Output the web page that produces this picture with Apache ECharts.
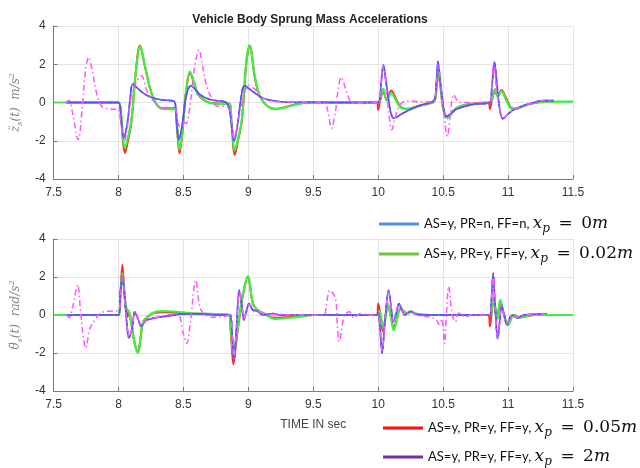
<!DOCTYPE html>
<html><head><meta charset="utf-8">
<script src="https://cdn.jsdelivr.net/npm/echarts@6/dist/echarts.min.js"></script>
<style>html,body{margin:0;padding:0;background:#fff}#c{width:640px;height:468px}</style>
</head><body><div id="c"></div><script>
// ---- data (time in s, acceleration) ----
const legendNames = ['AS=y, PR=n, FF=n, x_p = 0m', 'AS=y, PR=y, FF=y, x_p = 0.02m', 'AS=y, PR=y, FF=y, x_p = 0.05m', 'AS=y, PR=y, FF=y, x_p = 2m'];
const xRange = [7.5, 11.5];
const yRange = [-4, 4];
const topGreen = [[7.5,0],[8.0,0],[8.02,-0.6],[8.035,-1.9],[8.05,-2.38],[8.07,-1.9],[8.1,-0.9],[8.135,1.7],[8.167,2.96],[8.2,2.05],[8.24,0.83],[8.275,0.14],[8.31,-0.24],[8.35,-0.35],[8.435,-0.35],[8.45,-1.2],[8.47,-2.47],[8.49,-1.6],[8.52,0.6],[8.55,1.62],[8.58,1.1],[8.61,0.49],[8.66,0.14],[8.71,-0.03],[8.78,-0.07],[8.855,-0.07],[8.87,-1.0],[8.896,-2.5],[8.92,-1.9],[8.95,-0.9],[8.985,2.2],[9.01,2.96],[9.05,1.36],[9.085,0.4],[9.135,-0.12],[9.2,-0.35],[9.26,-0.3],[9.36,-0.12],[9.46,0],[10.0,0],[10.02,0.3],[10.04,0.71],[10.065,0.1],[10.1,0.49],[10.13,0.2],[10.17,-0.24],[10.22,-0.35],[10.32,-0.17],[10.42,0.0],[10.44,0.2],[10.46,1.6],[10.48,0.8],[10.5,-0.3],[10.53,-0.82],[10.6,-0.3],[10.65,-0.17],[10.75,-0.07],[10.86,0],[10.875,0.2],[10.9,0.7],[10.92,0.3],[10.95,0.6],[10.98,0.2],[11.02,-0.3],[11.05,-0.35],[11.15,-0.1],[11.3,0.05],[11.5,0.05]];
const topRed = [[7.6,0],[8.0,0],[8.02,-0.7],[8.035,-2.1],[8.05,-2.64],[8.07,-2.1],[8.1,-1.0],[8.13,1.4],[8.165,2.98],[8.2,2.0],[8.24,0.8],[8.275,0.12],[8.31,-0.22],[8.35,-0.3],[8.435,-0.3],[8.45,-1.3],[8.47,-2.65],[8.49,-1.7],[8.52,0.5],[8.55,1.55],[8.58,1.05],[8.61,0.45],[8.66,0.12],[8.71,-0.03],[8.78,-0.05],[8.855,-0.05],[8.87,-1.1],[8.896,-2.75],[8.92,-2.0],[8.95,-0.95],[8.985,2.1],[9.01,2.98],[9.05,1.3],[9.085,0.38],[9.135,-0.12],[9.2,-0.33],[9.26,-0.28],[9.36,-0.1],[9.46,0],[9.99,0],[10.0,-0.38],[10.015,0.1],[10.04,0.55],[10.065,0.15],[10.1,0.63],[10.13,0.3],[10.17,-0.2],[10.22,-0.33],[10.32,-0.15],[10.42,0],[10.44,0.2],[10.46,1.55],[10.48,0.8],[10.5,-0.3],[10.53,-0.78],[10.6,-0.3],[10.65,-0.15],[10.75,-0.05],[10.85,0],[10.86,-0.35],[10.875,0.1],[10.9,0.6],[10.92,0.35],[10.95,0.65],[10.98,0.3],[11.02,-0.25],[11.05,-0.33],[11.15,-0.1],[11.3,0.05],[11.35,0.05]];
const topBlue = [[7.6,0],[8.0,0],[8.02,-0.9],[8.04,-1.86],[8.06,-1.4],[8.075,-0.73],[8.09,0.2],[8.11,0.96],[8.16,0.66],[8.2,0.45],[8.25,0.28],[8.33,0.14],[8.43,0.05],[8.445,-0.8],[8.465,-1.95],[8.49,-1.2],[8.52,0.3],[8.557,0.87],[8.63,0.4],[8.71,0.14],[8.83,0],[8.86,-0.6],[8.89,-2.03],[8.92,-1.0],[8.945,0.3],[8.97,0.87],[9.035,0.57],[9.11,0.23],[9.19,0.1],[9.29,0.02],[9.99,0],[10.01,0.1],[10.025,1.2],[10.04,1.97],[10.06,1.1],[10.08,0.1],[10.1,-0.6],[10.117,-0.82],[10.19,-0.56],[10.27,-0.3],[10.34,-0.12],[10.42,0.05],[10.44,0.3],[10.46,2.14],[10.48,1.0],[10.495,0.14],[10.525,-0.73],[10.595,-0.38],[10.67,-0.2],[10.75,-0.08],[10.86,0],[10.875,0.8],[10.895,2.1],[10.915,0.9],[10.935,-0.3],[10.96,-0.85],[11.0,-0.6],[11.05,-0.35],[11.15,-0.1],[11.27,0.1],[11.35,0.1]];
const topMagenta = [[7.595,0],[7.62,0.12],[7.645,-0.5],[7.69,-1.95],[7.72,-0.3],[7.745,1.6],[7.77,2.37],[7.8,1.6],[7.82,0.83],[7.86,-0.1],[7.9,-0.3],[7.99,-0.35],[8.0,-0.35],[8.02,-1.2],[8.045,-2.0],[8.07,-1.2],[8.1,0.4],[8.14,1.1],[8.175,1.4],[8.225,0.5],[8.275,0.05],[8.33,-0.3],[8.43,-0.3],[8.455,-1.0],[8.475,-1.3],[8.5,-1.0],[8.52,-1.1],[8.55,-0.2],[8.585,1.8],[8.62,2.75],[8.65,1.8],[8.68,0.83],[8.72,0.2],[8.76,-0.2],[8.83,-0.2],[8.86,-0.5],[8.89,-1.9],[8.92,-1.0],[8.96,0.2],[9.0,0.9],[9.05,0.7],[9.1,0.3],[9.2,0.05],[9.58,0],[9.61,-0.4],[9.64,-1.34],[9.67,-0.5],[9.69,0.6],[9.715,1.32],[9.75,0.7],[9.78,0.14],[9.81,0],[10.0,0],[10.02,0.8],[10.04,1.9],[10.06,0.9],[10.08,-0.5],[10.105,-1.43],[10.13,-0.8],[10.16,-0.2],[10.2,0.05],[10.26,0.08],[10.32,0.03],[10.42,0.05],[10.44,0.3],[10.46,2.0],[10.49,0.5],[10.51,-0.8],[10.532,-1.77],[10.555,-0.7],[10.58,0.4],[10.63,0],[10.86,0],[10.875,0.8],[10.89,2.0],[10.91,0.8],[10.935,-0.3],[10.96,-0.85],[11.0,-0.6],[11.05,-0.35],[11.15,-0.1],[11.27,0.1],[11.35,0.1]];
const botGreen = [[7.5,0],[8.0,0],[8.015,1.0],[8.03,2.2],[8.045,1.2],[8.06,0.35],[8.08,0.2],[8.1,-0.5],[8.125,-1.5],[8.15,-2.0],[8.17,-1.2],[8.19,-0.35],[8.225,-0.1],[8.275,0.14],[8.35,0.2],[8.45,0.17],[8.55,0.1],[8.75,0.05],[8.85,0],[8.865,-0.8],[8.885,-2.1],[8.905,-1.3],[8.93,-0.1],[8.96,1.2],[8.996,2.05],[9.035,0.6],[9.07,0.26],[9.12,0.08],[9.2,-0.2],[9.285,-0.17],[9.385,-0.1],[9.5,0],[9.995,0],[10.01,0.2],[10.04,-0.7],[10.075,0.6],[10.095,0.0],[10.12,-0.8],[10.145,-0.2],[10.17,0.35],[10.23,0.08],[10.25,0.2],[10.3,0.05],[10.4,0],[10.86,0],[10.875,0.3],[10.89,0.9],[10.915,-0.3],[10.94,0.8],[10.965,0.1],[11.0,-0.55],[11.03,-0.1],[11.05,0],[11.08,-0.15],[11.2,0],[11.5,0]];
const botRed = [[7.6,0],[8.0,0],[8.015,1.2],[8.03,2.65],[8.045,1.2],[8.06,0.3],[8.07,-0.1],[8.08,0.15],[8.1,-0.5],[8.125,-1.5],[8.15,-1.95],[8.17,-1.2],[8.19,-0.35],[8.225,-0.1],[8.275,0.12],[8.35,0.15],[8.45,0.12],[8.55,0.08],[8.75,0.03],[8.85,0],[8.865,-0.9],[8.885,-2.6],[8.905,-1.5],[8.93,-0.2],[8.96,1.1],[8.996,2.0],[9.035,0.6],[9.07,0.26],[9.12,0.08],[9.2,-0.15],[9.285,-0.12],[9.385,-0.08],[9.5,0],[9.99,0],[10.0,0.6],[10.015,0.1],[10.035,-0.85],[10.075,0.5],[10.095,0.0],[10.12,-0.65],[10.145,-0.2],[10.17,0.3],[10.23,0.08],[10.25,0.18],[10.3,0.05],[10.4,0],[10.85,0],[10.86,-0.6],[10.875,0.2],[10.89,0.85],[10.915,-0.2],[10.94,0.7],[10.965,0.1],[11.0,-0.5],[11.03,-0.1],[11.05,0],[11.08,-0.12],[11.2,0],[11.3,0.05]];
const botBlue = [[7.6,0],[8.0,0],[8.015,1.2],[8.03,2.05],[8.05,0.7],[8.065,-0.5],[8.08,-1.2],[8.105,-0.7],[8.125,0.17],[8.15,-0.2],[8.175,-0.6],[8.21,-0.3],[8.25,-0.2],[8.3,-0.13],[8.4,-0.04],[8.5,0.05],[8.6,0.05],[8.8,0],[8.86,0],[8.875,-1.0],[8.89,-2.35],[8.91,-0.5],[8.93,1.3],[8.95,0.5],[8.965,-0.26],[8.985,0.2],[9.005,0.6],[9.035,0.26],[9.07,0.2],[9.11,0],[9.19,0.08],[9.24,0],[9.99,0],[10.0,0.1],[10.015,-0.8],[10.03,-2.0],[10.05,-0.5],[10.08,1.3],[10.1,0.4],[10.117,-0.35],[10.14,0.1],[10.16,0.6],[10.205,0],[10.24,0.17],[10.29,0.05],[10.34,0],[10.86,0],[10.87,0.6],[10.885,2.2],[10.9,0.5],[10.92,-1.25],[10.935,-0.4],[10.95,0.5],[10.97,0],[10.99,-0.5],[11.03,0],[11.07,-0.15],[11.12,0],[11.27,0.05]];
const botMagenta = [[7.6,0],[7.62,-0.14],[7.65,0.5],[7.685,1.6],[7.71,0],[7.73,-1.2],[7.747,-1.75],[7.78,-0.7],[7.82,-0.26],[7.87,0.14],[7.95,0.21],[8.0,0.24],[8.015,1.1],[8.03,2.0],[8.05,0.7],[8.065,-0.5],[8.08,-1.15],[8.105,-0.7],[8.125,0.15],[8.15,-0.2],[8.175,-0.55],[8.21,-0.3],[8.3,-0.1],[8.45,0.05],[8.5,-1.0],[8.525,-1.5],[8.555,-0.3],[8.595,1.84],[8.63,0.35],[8.68,-0.05],[8.75,-0.12],[8.83,-0.05],[8.86,0],[8.875,-1.0],[8.89,-2.3],[8.91,-0.5],[8.93,1.25],[8.95,0.5],[8.965,-0.25],[9.005,0.55],[9.07,0.2],[9.15,0.05],[9.58,0],[9.6,0.5],[9.627,1.3],[9.67,0.88],[9.685,-0.5],[9.7,-1.4],[9.74,0],[9.78,0.17],[9.81,-0.14],[9.865,0.08],[9.92,0],[10.0,0],[10.015,-0.8],[10.03,-1.95],[10.05,-0.5],[10.08,1.25],[10.1,0.4],[10.117,-0.3],[10.16,0.55],[10.205,0],[10.24,0.15],[10.3,0],[10.44,-0.2],[10.47,-0.5],[10.49,-0.2],[10.51,-1.5],[10.525,0],[10.543,1.5],[10.57,0],[10.595,-0.35],[10.62,0.1],[10.67,-0.1],[10.72,0],[10.86,0],[10.87,0.5],[10.885,2.1],[10.9,0.5],[10.92,-1.2],[10.935,-0.4],[10.95,0.45],[10.99,-0.45],[11.03,0],[11.07,-0.12],[11.12,0],[11.27,0.05]];

// ---- styling ----
const legendColors = ['#4f8fe6', '#72c146', '#ff1010', '#7030a0'];
const plotColors = {blue: '#4a5cff', green: '#3ef03e', red: '#ff2a2a', purple: '#7a40e8', magenta: '#ff55ff'};
const chart = echarts.init(document.getElementById('c'), null, {renderer: 'canvas'});

function xAxisCfg(idx, named) {
  return {
    type: 'value', gridIndex: idx, min: xRange[0], max: xRange[1], interval: 0.5,
    axisLine: {show: true, onZero: false, lineStyle: {color: '#7a7a7a', width: 1}},
    axisTick: {show: true, inside: true, length: 4, lineStyle: {color: '#7a7a7a'}},
    axisLabel: {color: '#333', fontSize: 12, fontFamily: 'Liberation Sans', margin: 8},
    splitLine: {show: true, lineStyle: {color: '#e3e3e3', width: 1}},
    name: named ? 'TIME IN sec' : '', nameLocation: 'middle', nameGap: 28,
    nameTextStyle: {color: '#444', fontSize: 12, fontFamily: 'Liberation Sans'}
  };
}
function yAxisCfg(idx, nameStr) {
  return {
    type: 'value', gridIndex: idx, min: yRange[0], max: yRange[1], interval: 2,
    axisLine: {show: true, lineStyle: {color: '#7a7a7a', width: 1}},
    axisTick: {show: true, inside: true, length: 4, lineStyle: {color: '#7a7a7a'}},
    axisLabel: {color: '#333', fontSize: 12, fontFamily: 'Liberation Sans', margin: 8},
    splitLine: {show: true, lineStyle: {color: '#e3e3e3', width: 1}},
    name: nameStr, nameLocation: 'middle', nameRotate: 90, nameGap: 22,
    nameTextStyle: {
      color: '#888', fontSize: 12, fontFamily: 'DejaVu Serif', fontStyle: 'italic', lineHeight: 16,
      rich: {
        i: {fontSize: 12, fontFamily: 'DejaVu Serif', fontStyle: 'italic', color: '#888', lineHeight: 16, verticalAlign: 'middle'},
        sub: {fontSize: 8, fontFamily: 'DejaVu Serif', fontStyle: 'italic', color: '#888', lineHeight: 16, verticalAlign: 'bottom'},
        sup: {fontSize: 8, fontFamily: 'DejaVu Serif', fontStyle: 'italic', color: '#888', lineHeight: 16, verticalAlign: 'top'}
      }
    }
  };
}
function lineSeries(name, data, idx, color, width, type, z) {
  return {
    name: name, type: 'line', xAxisIndex: idx, yAxisIndex: idx, data: data,
    showSymbol: false, symbol: 'none', smooth: 0.35, z: z,
    lineStyle: {color: color, width: width, type: type}, itemStyle: {color: color}
  };
}
function legendCfg(i, left, top) {
  return {
    left: left, top: top, padding: 0, itemWidth: 40, itemHeight: 3, icon: 'rect', orient: 'horizontal',
    selectedMode: false,
    data: [{name: legendNames[i], itemStyle: {color: legendColors[i]}}],
    formatter: function (name) {
      const parts = name.split(', x_p = ');
      const val = parts[1].replace(/m$/, '');
      return '{t|' + parts[0] + ', }{mi|x}{sub|p}{m|\u2002=\u2002' + val + '}{mi|m}';
    },
    textStyle: {
      color: '#111', fontSize: 13, fontFamily: 'Lato', lineHeight: 22,
      rich: {
        t: {fontSize: 13, fontFamily: 'Lato', color: '#111', lineHeight: 22, verticalAlign: 'middle'},
        mi: {fontSize: 17, fontFamily: 'DejaVu Serif', fontStyle: 'italic', color: '#111', lineHeight: 22, verticalAlign: 'middle'},
        m: {fontSize: 17, fontFamily: 'DejaVu Serif', color: '#111', lineHeight: 22, verticalAlign: 'middle'},
        sub: {fontSize: 12, fontFamily: 'DejaVu Serif', fontStyle: 'italic', color: '#111', lineHeight: 22, verticalAlign: 'bottom'}
      }
    }
  };
}

const option = {
  animation: false,
  backgroundColor: '#ffffff',
  title: {
    text: 'Vehicle Body Sprung Mass Accelerations', left: 305, top: 9, textAlign: 'center',
    textStyle: {fontSize: 12, fontWeight: 'bold', color: '#222', fontFamily: 'Liberation Sans'}
  },
  grid: [
    {left: 43, right: 67, top: 26, height: 153},
    {left: 43, right: 67, top: 239, height: 152}
  ],
  xAxis: [xAxisCfg(0, false), xAxisCfg(1, true)],
  yAxis: [
    yAxisCfg(0, '{i|z\u0308}{sub|s}{i|(t)  m/s}{sup|2}'),
    yAxisCfg(1, '{i|\u03b8\u0308}{sub|s}{i|(t)  rad/s}{sup|2}')
  ],
  legend: [legendCfg(0, 379, 213), legendCfg(1, 379, 243), legendCfg(2, 383, 417), legendCfg(3, 383, 446)],
  series: [
    lineSeries(legendNames[2], topRed, 0, plotColors.red, 2, 'solid', 2),
    lineSeries(legendNames[1], topGreen, 0, plotColors.green, 2.2, 'solid', 3),
    lineSeries(legendNames[3], topBlue, 0, plotColors.purple, 1.6, 'solid', 4),
    lineSeries(legendNames[0], topBlue, 0, plotColors.blue, 1.6, [5, 3], 5),
    lineSeries('road input', topMagenta, 0, plotColors.magenta, 1.5, [6, 3, 1.5, 3], 6),
    lineSeries(legendNames[2], botRed, 1, plotColors.red, 2, 'solid', 2),
    lineSeries(legendNames[1], botGreen, 1, plotColors.green, 2.2, 'solid', 3),
    lineSeries(legendNames[3], botBlue, 1, plotColors.purple, 1.6, 'solid', 4),
    lineSeries(legendNames[0], botBlue, 1, plotColors.blue, 1.6, [5, 3], 5),
    lineSeries('road input', botMagenta, 1, plotColors.magenta, 1.5, [6, 3, 1.5, 3], 6)
  ]
};
chart.setOption(option);
</script></body></html>
